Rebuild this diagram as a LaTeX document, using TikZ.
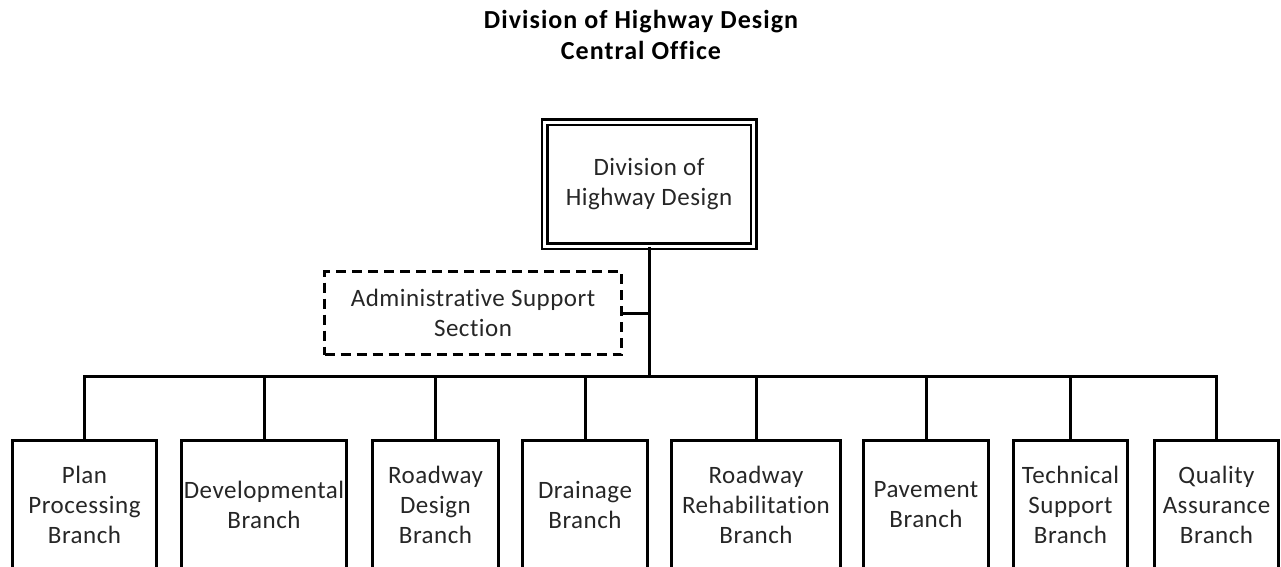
\documentclass[tikz,border=0pt]{standalone}
\usepackage{fontspec}
\setmainfont{Carlito}[Ligatures={NoCommon}]
\newfontfamily\bodyfont{Carlito}[Ligatures={NoCommon},LetterSpace=2]
\newfontfamily\titlefont{Carlito}[Ligatures={NoCommon},LetterSpace=4]
\begin{document}
\begin{tikzpicture}[x=1pt,y=-1pt,
  lbl/.style={font=\bodyfont\fontsize{25}{30}\selectfont, align=center, text=black!85},
  branch/.style={lbl, draw=black, line width=3pt, minimum height=130pt, inner sep=0pt},
  link/.style={draw=black, line width=3pt},
  title/.style={font=\titlefont\fontsize{26}{31}\selectfont\bfseries, align=center}
]
\useasboundingbox (0,0) rectangle (1281,566);
\node[title] (ttl) at (641,35) {Division of Highway Design\\Central Office};
\node[lbl, draw=black, line width=2.5pt, double, double distance=3pt,
  minimum width=209pt, minimum height=124pt, inner sep=0pt] (top) at (649,184)
  {Division of\\Highway Design};
\node[lbl, draw=black, line width=3pt, dash pattern=on 10pt off 6pt,
  minimum width=297pt, minimum height=83pt, inner sep=0pt] (adm) at (473,313)
  {Administrative Support\\Section};
\coordinate (bus) at (0,376);
\node[branch, minimum width=144pt] (b1) at (84.5,505) {Plan\\Processing\\Branch};
\node[branch, minimum width=165pt] (b2) at (264,505) {Developmental\\Branch};
\node[branch, minimum width=126pt] (b3) at (435.5,505) {Roadway\\Design\\Branch};
\node[branch, minimum width=125pt] (b4) at (585,505) {Drainage\\Branch};
\node[branch, minimum width=169pt] (b5) at (756,505) {Roadway\\Rehabilitation\\Branch};
\node[branch, minimum width=125pt] (b6) at (926,505) {Pavement\\Branch};
\node[branch, minimum width=114pt] (b7) at (1070.5,505) {Technical\\Support\\Branch};
\node[branch, minimum width=124pt] (b8) at (1216.5,505) {Quality\\Assurance\\Branch};
\draw[link] (top.south) -- (top.south |- bus);
\draw[link] (adm.east) -- (adm.east -| top.south);
\draw[link, line cap=rect] (b1.north |- bus) -- (b8.north |- bus);
\foreach \b in {b1,b2,b3,b4,b5,b6,b7,b8}
  \draw[link] (\b.north) -- (\b.north |- bus);
\end{tikzpicture}
\end{document}
